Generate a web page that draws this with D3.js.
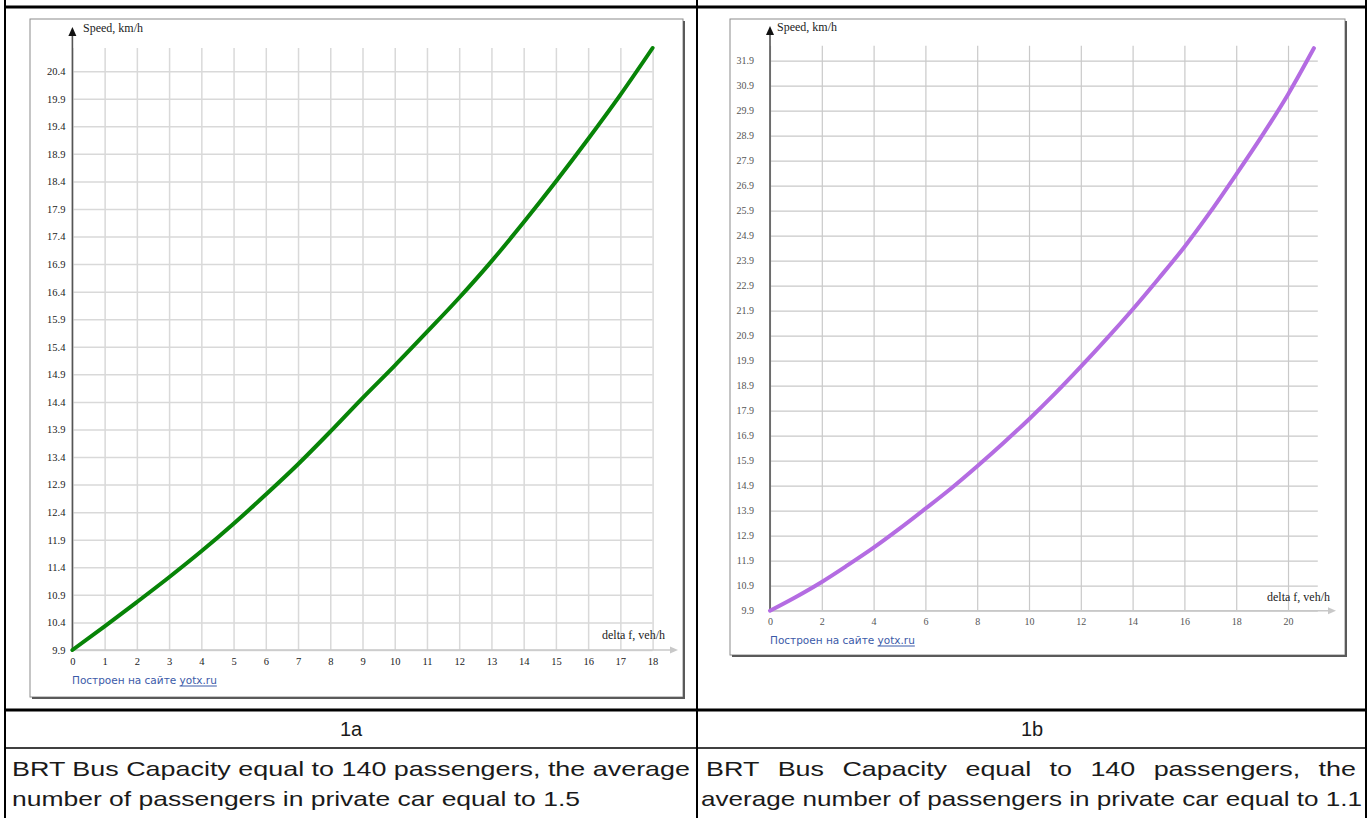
<!DOCTYPE html>
<html>
<head>
<meta charset="utf-8">
<script src="https://cdn.jsdelivr.net/npm/d3@7"></script>
<style>
  body { margin: 0; background: #fff; }
  svg { display: block; }
  .tick text { font-family: "Liberation Serif", "Times New Roman", serif; }
  .cell-text { font-family: "Liberation Sans", Arial, sans-serif; fill: #1a1a1a; }
</style>
</head>
<body>
<div id="chart"></div>
<script>
/**
 * DATA
 **/
const deltaA = [0, 1, 2, 3, 4, 5, 6, 7, 8, 9, 10, 11, 12, 13, 14, 15, 16, 17, 18];
const speedA = [9.9, 10.33, 10.77, 11.22, 11.69, 12.19, 12.72, 13.27, 13.86, 14.47,
                15.06, 15.67, 16.29, 16.95, 17.66, 18.40, 19.17, 19.97, 20.82];

const deltaB = [0, 1, 2, 3, 4, 5, 6, 7, 8, 9, 10, 11, 12, 13, 14, 15, 16, 17, 18, 19, 20, 21];
const speedB = [9.9, 10.45, 11.05, 11.72, 12.42, 13.18, 13.98, 14.8, 15.68, 16.6, 17.56,
                18.58, 19.66, 20.78, 21.95, 23.18, 24.45, 25.85, 27.35, 28.9, 30.55, 32.4];

const yTicksA = [9.9, 10.4, 10.9, 11.4, 11.9, 12.4, 12.9, 13.4, 13.9, 14.4, 14.9,
                 15.4, 15.9, 16.4, 16.9, 17.4, 17.9, 18.4, 18.9, 19.4, 19.9, 20.4];
const xTicksA = [0, 1, 2, 3, 4, 5, 6, 7, 8, 9, 10, 11, 12, 13, 14, 15, 16, 17, 18];

const yTicksB = [9.9, 10.9, 11.9, 12.9, 13.9, 14.9, 15.9, 16.9, 17.9, 18.9, 19.9, 20.9,
                 21.9, 22.9, 23.9, 24.9, 25.9, 26.9, 27.9, 28.9, 29.9, 30.9, 31.9];
const xTicksB = [0, 2, 4, 6, 8, 10, 12, 14, 16, 18, 20];

const yTitle = "Speed, km/h";
const xTitle = "delta f, veh/h";
const creditText = "Построен на сайте\u00a0";
const creditLink = "yotx.ru";

const cellLabels = ["1a", "1b"];
const captionA = ["BRT Bus Capacity equal to 140 passengers, the average",
                  "number of passengers in private car equal to 1.5"];
const captionB = ["BRT Bus Capacity equal to 140 passengers, the",
                  "average number of passengers in private car equal to 1.1"];

/**
 * LAYOUT
 **/
const W = 1371, H = 818;

const chartA = {
  x: d3.scaleLinear().domain([0, 18]).range([72.4, 652.6]),
  y: d3.scaleLinear().domain([9.9, 20.82]).range([650, 48]),
  frame: { x: 30, y: 19, w: 653, h: 678 },
  xData: deltaA, yData: speedA, xTicks: xTicksA, yTicks: yTicksA,
  color: "#078407", grid: "#d9d9d9", gridWidth: 1.5, label: "#222", fontSize: 10.5,
  yPad: 7, xPad: 8, arrowTop: 27, arrowRight: 678,
  yTitlePos: [83, 32], xTitlePos: [665, 639], creditPos: [72, 684]
};

const chartB = {
  x: d3.scaleLinear().domain([0, 21.15]).range([770, 1317.8]),
  y: d3.scaleLinear().domain([9.9, 32.5]).range([610.7, 45.7]),
  frame: { x: 730, y: 19, w: 615, h: 636 },
  xData: deltaB, yData: speedB, xTicks: xTicksB, yTicks: yTicksB,
  color: "#b46ce2", grid: "#c9c9c9", gridWidth: 1.2, label: "#555", fontSize: 10,
  yPad: 16, xPad: 7, arrowTop: 26, arrowRight: 1336,
  yTitlePos: [777, 31], xTitlePos: [1330, 601], creditPos: [770, 644]
};

const svg = d3.select("#chart")
  .append("svg")
  .attr("width", W)
  .attr("height", H);

svg.append("rect").attr("width", W).attr("height", H).attr("fill", "#fff");

drawChart(chartA);
drawChart(chartB);
drawTable();

/**
 * ONE CHART PANEL
 **/
function drawChart(c) {
  const g = svg.append("g");
  const f = c.frame;
  const [xl, xr] = c.x.range();
  const [yb, yt] = c.y.range();

  // frame with a little shadow on right / bottom
  g.append("rect")
    .attr("x", f.x).attr("y", f.y)
    .attr("width", f.w).attr("height", f.h)
    .attr("fill", "#fff")
    .attr("stroke", "#8c8c8c");
  g.append("path")
    .attr("d", `M${f.x + f.w + 1},${f.y + 2}V${f.y + f.h + 1}H${f.x + 2}`)
    .attr("fill", "none")
    .attr("stroke", "#5a5a5a")
    .attr("stroke-width", 2);

  // horizontal grid + y labels
  const yAxis = d3.axisLeft(c.y)
    .tickValues(c.yTicks)
    .tickSize(-(xr - xl))
    .tickPadding(c.yPad)
    .tickFormat(d3.format(".1f"));
  g.append("g")
    .attr("class", "axis y-axis")
    .attr("transform", `translate(${xl},0)`)
    .call(yAxis)
    .call(s => s.select(".domain").remove())
    .call(s => s.selectAll(".tick line").attr("stroke", c.grid).attr("stroke-width", c.gridWidth))
    .call(s => s.selectAll(".tick text").attr("fill", c.label).attr("font-size", c.fontSize));

  // vertical grid + x labels
  const xAxis = d3.axisBottom(c.x)
    .tickValues(c.xTicks)
    .tickSize(-(yb - yt))
    .tickPadding(c.xPad)
    .tickFormat(d3.format("d"));
  g.append("g")
    .attr("class", "axis x-axis")
    .attr("transform", `translate(0,${yb})`)
    .call(xAxis)
    .call(s => s.select(".domain").remove())
    .call(s => s.selectAll(".tick line").attr("stroke", c.grid).attr("stroke-width", c.gridWidth))
    .call(s => s.selectAll(".tick text").attr("fill", c.label).attr("font-size", c.fontSize));

  // x axis line with light arrow
  g.append("line")
    .attr("x1", xl).attr("x2", c.arrowRight - 6)
    .attr("y1", yb).attr("y2", yb)
    .attr("stroke", "#c8c8c8").attr("stroke-width", 1.5);
  g.append("path")
    .attr("d", `M${c.arrowRight},${yb}L${c.arrowRight - 8},${yb - 3.5}L${c.arrowRight - 8},${yb + 3.5}Z`)
    .attr("fill", "#c8c8c8");

  // y axis line with black arrow
  g.append("line")
    .attr("x1", xl).attr("x2", xl)
    .attr("y1", yb).attr("y2", c.arrowTop + 6)
    .attr("stroke", "#555").attr("stroke-width", 1.6);
  g.append("path")
    .attr("d", `M${xl},${c.arrowTop}L${xl - 4},${c.arrowTop + 9}L${xl + 4},${c.arrowTop + 9}Z`)
    .attr("fill", "#111");

  // the curve
  const line = d3.line()
    .x((d, i) => c.x(c.xData[i]))
    .y(d => c.y(d))
    .curve(d3.curveMonotoneX);
  g.append("path")
    .datum(c.yData)
    .attr("d", line)
    .attr("fill", "none")
    .attr("stroke", c.color)
    .attr("stroke-width", 4)
    .attr("stroke-linecap", "round");

  // titles
  g.append("text")
    .attr("x", c.yTitlePos[0]).attr("y", c.yTitlePos[1])
    .attr("font-family", "Liberation Serif, serif")
    .attr("font-size", 12)
    .attr("fill", "#222")
    .text(yTitle);
  g.append("text")
    .attr("x", c.xTitlePos[0]).attr("y", c.xTitlePos[1])
    .attr("text-anchor", "end")
    .attr("font-family", "Liberation Serif, serif")
    .attr("font-size", 12)
    .attr("fill", "#222")
    .text(xTitle);

  // credit line, link underlined
  const credit = g.append("text")
    .attr("x", c.creditPos[0]).attr("y", c.creditPos[1])
    .attr("font-family", "DejaVu Sans, sans-serif")
    .attr("font-size", 10.5)
    .attr("fill", "#3b5aa8")
    .text(creditText);
  const w0 = credit.node().getComputedTextLength();
  const link = g.append("text")
    .attr("x", c.creditPos[0] + w0).attr("y", c.creditPos[1])
    .attr("font-family", "DejaVu Sans, sans-serif")
    .attr("font-size", 10.5)
    .attr("fill", "#3b5aa8")
    .text(creditLink);
  const w1 = link.node().getComputedTextLength();
  g.append("line")
    .attr("x1", c.creditPos[0] + w0).attr("x2", c.creditPos[0] + w0 + w1)
    .attr("y1", c.creditPos[1] + 2).attr("y2", c.creditPos[1] + 2)
    .attr("stroke", "#3b5aa8").attr("stroke-width", 1);
}

/**
 * TABLE AROUND THE TWO CHARTS
 **/
function drawTable() {
  const t = svg.append("g");
  const black = "#000";

  [[5, 2], [697, 2], [1366, 2]].forEach(([x, w]) =>
    t.append("line")
      .attr("x1", x).attr("x2", x).attr("y1", 0).attr("y2", H)
      .attr("stroke", black).attr("stroke-width", w));

  [[7, 3], [710, 3], [748, 1.5]].forEach(([y, w]) =>
    t.append("line")
      .attr("x1", 4).attr("x2", 1367).attr("y1", y).attr("y2", y)
      .attr("stroke", black).attr("stroke-width", w));

  // 1a / 1b labels
  t.selectAll("text.cell-label")
    .data(cellLabels)
    .join("text")
    .attr("class", "cell-text cell-label")
    .attr("x", (d, i) => i === 0 ? 351 : 1032)
    .attr("y", 736)
    .attr("text-anchor", "middle")
    .attr("font-size", 20)
    .text(d => d);

  // captions (plain lines)
  const rows = [
    { text: captionA[0], x: 12, y: 776, len: 678 },
    { text: captionA[1], x: 12, y: 806, len: 568 },
    { text: captionB[1], x: 701, y: 806, len: 661 }
  ];
  const caps = t.selectAll("text.caption")
    .data(rows)
    .join("text")
    .attr("class", "cell-text caption")
    .attr("x", d => d.x)
    .attr("y", d => d.y)
    .attr("font-size", 21)
    .text(d => d.text);

  // how much the original typeface is wider than ours
  const natural = caps.nodes()[0].getComputedTextLength();
  const stretch = rows[0].len / natural;

  caps.attr("textLength", d => d.len)
    .attr("lengthAdjust", "spacingAndGlyphs");

  // justified first line of 1b: stretched words spread between two edges
  const words = captionB[0].split(" ");
  const left = 706, right = 1356;
  const wg = t.append("g");
  const nodes = words.map(w => wg.append("text")
    .attr("class", "cell-text")
    .attr("y", 776)
    .attr("font-size", 21)
    .text(w));
  const widths = nodes.map(n => n.node().getComputedTextLength() * stretch);
  const gap = (right - left - d3.sum(widths)) / (words.length - 1);
  let cx = left;
  nodes.forEach((n, i) => {
    n.attr("x", cx)
      .attr("textLength", widths[i])
      .attr("lengthAdjust", "spacingAndGlyphs");
    cx += widths[i] + gap;
  });
}
</script>
</body>
</html>
